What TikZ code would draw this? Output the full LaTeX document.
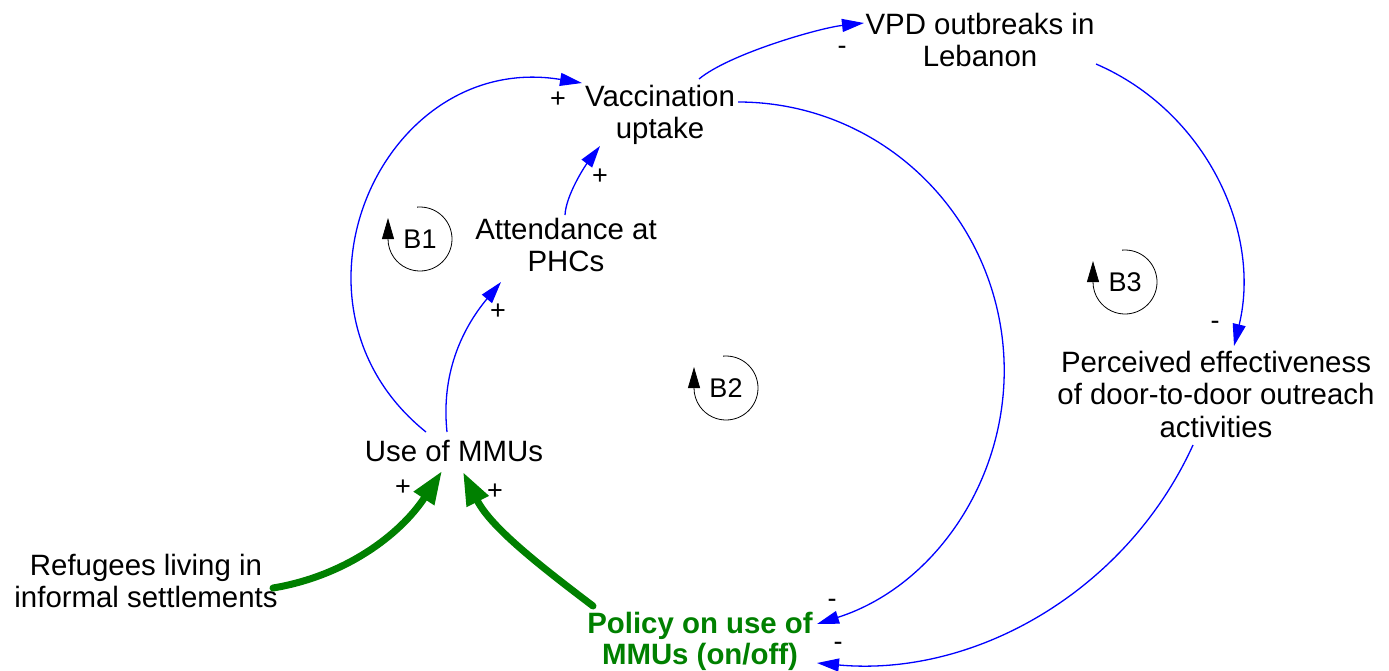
\documentclass[tikz,border=0pt]{standalone}
\usepackage{fontspec}
\setmainfont{Liberation Sans}
\usetikzlibrary{arrows.meta,calc}
\definecolor{linkblue}{RGB}{0,0,255}
\definecolor{polgreen}{RGB}{0,128,0}
\begin{document}
\begin{tikzpicture}[x=1pt,y=1pt,
  var/.style={font=\fontsize{29.4}{32.5}\selectfont, align=center, inner sep=0pt, anchor=base},
  polvar/.style={var, font=\fontsize{29.4}{31}\selectfont\bfseries, text=polgreen},
  sign/.style={font=\fontsize{27}{30}\selectfont, inner sep=0pt},
  link/.style={draw=linkblue, line width=1.3pt, -{Triangle[length=22pt,width=13pt]}},
  strong/.style={draw=polgreen, line width=7pt, line cap=round, -{Triangle[length=33pt,width=23pt]}},
  loopc/.style={draw=black, line width=0.8pt, -{Triangle[length=21pt,width=12pt]}},
  looplbl/.style={font=\fontsize{27}{30}\selectfont, inner sep=0pt}]
\useasboundingbox (0,0) rectangle (1389,-670);

% variables (base = baseline of last line)
\node[var] (vacc) at (660,-138.5) {Vaccination\\uptake};
\node[var] (vpd) at (980,-66.5) {VPD outbreaks in\\Lebanon};
\node[var] (att) at (566,-271.5) {Attendance at\\PHCs};
\node[var] (mmu) at (454,-461) {Use of MMUs};
\node[var] (per) at (1216,-437) {Perceived effectiveness\\of door-to-door outreach\\activities};
\node[var] (ref) at (146,-607.5) {Refugees living in\\informal settlements};
\node[polvar] (pol) at (700,-664) {Policy on use of\\MMUs (on/off)};

% loop markers
\node[looplbl] (b1) at (420,-239) {B1};
\draw[loopc] ($(b1)+(95:32)$) arc[start angle=95,end angle=-180,radius=32pt] -- ++(0,21);
\node[looplbl] (b2) at (726,-388) {B2};
\draw[loopc] ($(b2)+(95:32)$) arc[start angle=95,end angle=-180,radius=32pt] -- ++(0,21);
\node[looplbl] (b3) at (1125,-282) {B3};
\draw[loopc] ($(b3)+(95:32)$) arc[start angle=95,end angle=-180,radius=32pt] -- ++(0,21);

% blue links
\draw[link] ($(mmu.base)+(-28,29)$) .. controls +(-158,127) and +(-200,33) .. ($(vacc.base)+(-78,55.5)$);
\draw[link] ($(mmu.base)+(-7,29)$) .. controls +(-6,57) and +(-40,-48) .. ($(att.base)+(-65,-10.5)$);
\draw[link] ($(att.base)+(-1,56.5)$) .. controls +(1,20) and +(-15,-20) .. ($(vacc.base)+(-60,-7.5)$);
\draw[link] ($(vacc.base)+(39,59.5)$) .. controls +(30,25) and +(-45,-5) .. ($(vpd.base)+(-116,43.5)$);
\draw[link] ($(vpd.base)+(116,2.5)$) .. controls +(109,-47) and +(28,115) .. ($(per.base)+(18,91)$);
\coordinate (b2mid) at (1001,-329);
\draw[link] ($(vacc.base)+(78,36.5)$) .. controls +(132,0) and +(-20.3,130.5) .. (b2mid)
   .. controls +(20.3,-130.5) and +(125.9,40.2) .. ($(pol.base)+(117,40)$);
\draw[link] ($(per.base)+(-23,-8)$) .. controls +(-66,-145) and +(159,-14.5) .. ($(pol.base)+(117,1)$);

% green links
\draw[strong] ($(ref.base)+(127,19.5)$) .. controls +(72,12) and +(-42,-64) .. ($(mmu.base)+(-12,-10)$);
\draw[strong] ($(pol.base)+(-107,58)$) .. controls +(-50,38) and +(28,-56) .. ($(mmu.base)+(9,-11)$);

% polarities
\node[sign] (s1) at (558,-100) {+};
\node[sign] (s2) at (600,-177) {+};
\node[sign] (s3) at (498,-312) {+};
\node[sign] (s4) at (842,-50) {-};
\node[sign] (s5) at (1215,-325) {-};
\node[sign] (s6) at (832,-603) {-};
\node[sign] (s7) at (838,-646) {-};
\node[sign] (s8) at (403,-488) {+};
\node[sign] (s9) at (495,-492) {+};
\end{tikzpicture}
\end{document}
